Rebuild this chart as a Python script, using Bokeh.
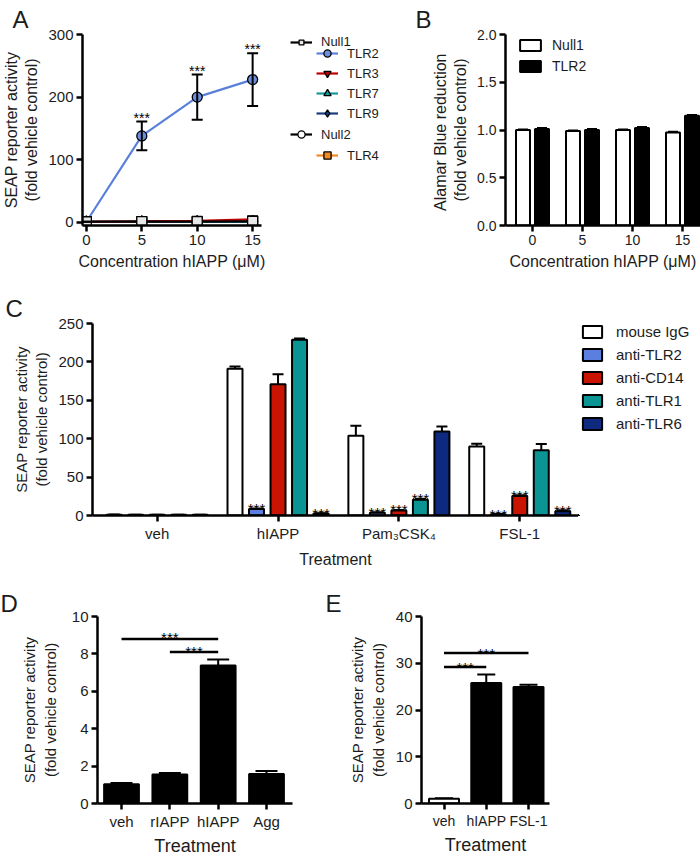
import numpy as np
from bokeh.plotting import figure
from bokeh.models import (Range1d, FixedTicker, PrintfTickFormatter, Legend, LegendItem,
                          Whisker, TeeHead, ColumnDataSource)
from bokeh.layouts import column, row
from bokeh.embed import file_html
from bokeh.resources import INLINE
from bokeh.core.properties import value

FONT = "Liberation Sans"
INK = "#1c1c1c"

# ---------------- data ----------------
# Panel A: SEAP activity vs hIAPP concentration
a_conc = [0, 5, 10, 15]
a_null1 = [1.0, 1.2, 1.1, 1.6]
a_tlr2 = [1.0, 138.0, 200.0, 228.0]
a_tlr2_err = [0.0, 23.0, 36.0, 42.0]
a_tlr3 = [1.0, 1.5, 2.5, 5.0]
a_tlr7 = [1.0, 1.1, 1.2, 1.4]
a_tlr9 = [1.0, 1.0, 1.1, 1.2]
a_null2 = [1.0, 1.1, 1.0, 1.2]
a_tlr4 = [1.0, 1.3, 1.6, 2.2]
a_sig = [False, True, True, True]

# Panel B: Alamar Blue reduction
b_conc = ["0", "5", "10", "15"]
b_null1 = [1.0, 0.99, 1.0, 0.975]
b_null1_err = [0.004, 0.006, 0.004, 0.006]
b_tlr2 = [1.01, 1.0, 1.02, 1.15]
b_tlr2_err = [0.01, 0.01, 0.012, 0.008]

# Panel C: antibody blocking
c_treat = ["veh", "hIAPP", "Pam\u2083CSK\u2084", "FSL-1"]
c_antibodies = ["mouse IgG", "anti-TLR2", "anti-CD14", "anti-TLR1", "anti-TLR6"]
c_igg = [1.0, 191.0, 104.0, 90.0]
c_igg_err = [0.3, 3.0, 13.0, 3.5]
c_tlr2 = [1.0, 8.6, 3.5, 1.5]
c_tlr2_err = [0.1, 0.6, 0.6, 0.3]
c_cd14 = [1.0, 171.0, 6.5, 25.5]
c_cd14_err = [0.1, 13.0, 0.8, 1.0]
c_tlr1 = [1.0, 229.0, 20.5, 85.0]
c_tlr1_err = [0.1, 1.5, 1.2, 8.0]
c_tlr6 = [1.0, 2.5, 109.5, 5.5]
c_tlr6_err = [0.1, 0.5, 6.5, 1.2]
c_sig_igg = [0, 0, 0, 0]
c_sig_tlr2 = [0, 1, 1, 1]
c_sig_cd14 = [0, 0, 1, 1]
c_sig_tlr1 = [0, 0, 1, 0]
c_sig_tlr6 = [0, 1, 0, 1]

# Panel D
d_treat = ["veh", "rIAPP", "hIAPP", "Agg"]
d_vals = [1.03, 1.55, 7.38, 1.58]
d_err = [0.06, 0.08, 0.32, 0.16]
d_sig_from = ["veh", "rIAPP"]
d_sig_to = ["hIAPP", "hIAPP"]
d_sig_y = [8.8, 8.1]

# Panel E
e_treat = ["veh", "hIAPP", "FSL-1"]
e_vals = [1.0, 25.8, 24.9]
e_err = [0.1, 1.8, 0.5]
e_sig_from = ["veh", "veh"]
e_sig_to = ["hIAPP", "FSL-1"]
e_sig_y = [29.2, 32.2]

Y_TITLE = "SEAP reporter activity\n(fold vehicle control)"


def style(p, tick_size="15px", title_size="16px"):
    p.outline_line_color = None
    p.xgrid.visible = False
    p.ygrid.visible = False
    for ax in (p.xaxis[0], p.yaxis[0]):
        ax.axis_line_width = 2.5
        ax.axis_line_color = "black"
        ax.major_tick_line_width = 2.5
        ax.major_tick_line_color = "black"
        ax.major_tick_out = 6
        ax.major_tick_in = 0
        ax.minor_tick_line_color = None
        ax.major_label_text_font = FONT
        ax.major_label_text_font_size = tick_size
        ax.major_label_text_color = INK
        ax.major_label_standoff = 3
        ax.axis_label_text_font = FONT
        ax.axis_label_text_font_size = title_size
        ax.axis_label_text_font_style = "normal"
        ax.axis_label_text_color = INK
        ax.axis_label_standoff = 5


def letter(p, txt, offset, standoff):
    p.title.text = txt
    p.title.align = "left"
    p.title.offset = offset
    p.title.standoff = standoff
    p.title.text_font = FONT
    p.title.text_font_size = "24px"
    p.title.text_font_style = "normal"
    p.title.text_color = INK


def legend(items, x, y, **kw):
    return Legend(items=items, location=(x, y), padding=0, margin=0,
                  background_fill_alpha=0, border_line_color=None,
                  label_text_font=FONT, label_text_color=INK, **kw)


def blank(width, height):
    # legend-only figure: its ranges are far away from the data, so only swatches show
    p = figure(width=width, height=height, x_range=Range1d(1000, 1001), y_range=Range1d(1000, 1001),
               x_axis_location=None, y_axis_location=None, output_backend="svg",
               toolbar_location=None, min_border=0)
    p.outline_line_color = None
    p.grid.grid_line_color = None
    return p


def stars(p, xs, ys, size, dy):
    p.text(x=xs, y=ys, text=["***"] * len(xs), text_font=value(FONT), text_font_size=size,
           text_color="black", text_align="center", text_baseline="alphabetic", y_offset=dy)


# ---------------- Panel A ----------------
pA = figure(width=270, height=290, x_range=Range1d(-0.35, 15.8), y_range=Range1d(-5, 300),
            output_backend="svg", toolbar_location=None,
            min_border_left=72, min_border_right=9, min_border_top=34, min_border_bottom=65)
style(pA)
pA.xaxis.ticker = FixedTicker(ticks=a_conc)
pA.yaxis.ticker = FixedTicker(ticks=[0, 100, 200, 300])
pA.xaxis.axis_label = "Concentration hIAPP (\u03bcM)"
pA.yaxis.axis_label = Y_TITLE
letter(pA, "A", -70, 3)

series = [
    ("TLR4", a_tlr4, "#f08a24", "square", "#f08a24"),
    ("Null2", a_null2, "black", "circle", "white"),
    ("TLR9", a_tlr9, "#1c3d7c", "diamond", "#1c3d7c"),
    ("TLR7", a_tlr7, "#149b9b", "triangle", "#149b9b"),
    ("TLR3", a_tlr3, "#c00000", "inverted_triangle", "#c00000"),
    ("TLR2", a_tlr2, "#5b80dc", "circle", "#6e8fe0"),
    ("Null1", a_null1, "black", "square", "#e8e8e8"),
]
for name, ys, col, mk, fill in series:
    pA.line(a_conc, ys, line_color=col, line_width=2.2)
    if name == "TLR2":
        src = ColumnDataSource(dict(x=a_conc, up=[v + e for v, e in zip(a_tlr2, a_tlr2_err)],
                                    lo=[v - e for v, e in zip(a_tlr2, a_tlr2_err)]))
        pA.add_layout(Whisker(source=src, base="x", upper="up", lower="lo", line_width=2,
                              upper_head=TeeHead(size=11, line_width=2),
                              lower_head=TeeHead(size=11, line_width=2), level="glyph"))
    pA.scatter(a_conc, ys, marker=mk, size=10 if mk != "diamond" else 12,
               fill_color=fill, line_color="black", line_width=1.3)

sx = [c for c, s in zip(a_conc, a_sig) if s]
sy = [v + e for v, e, s in zip(a_tlr2, a_tlr2_err, a_sig) if s]
stars(pA, sx, sy, "14px", -4)

# legend for A lives in its own figure (same series, ranges out of view -> swatches only)
pAL = blank(142, 290)
lrend = {}
for name, ys, col, mk, fill in series:
    ln = pAL.line(a_conc, ys, line_color=col, line_width=2.2)
    sc = pAL.scatter(a_conc, ys, marker=mk, size=9 if mk != "diamond" else 11,
                     fill_color=fill, line_color="black", line_width=1.3)
    lrend[name] = [ln, sc]
lkw = dict(glyph_width=22, glyph_height=18, label_height=18, spacing=2,
           label_standoff=9, label_text_font_size="13px")
lkw1 = dict(lkw, glyph_height=12, label_height=12)
pAL.add_layout(legend([LegendItem(label="Null1", renderers=lrend["Null1"])], 20, 176, **lkw1))
pAL.add_layout(legend([LegendItem(label=n, renderers=lrend[n]) for n in ["TLR2", "TLR3", "TLR7", "TLR9"]],
                      46, 103, **lkw))
pAL.add_layout(legend([LegendItem(label="Null2", renderers=lrend["Null2"])], 20, 82, **lkw))
pAL.add_layout(legend([LegendItem(label="TLR4", renderers=lrend["TLR4"])], 46, 61, **lkw))

# ---------------- Panel B ----------------
pB = figure(width=288, height=290, x_range=Range1d(0.46, 4.36), y_range=Range1d(0, 2),
            output_backend="svg", toolbar_location=None,
            min_border_left=93, min_border_right=0, min_border_top=34, min_border_bottom=65)
style(pB, tick_size="14px")
bx = np.arange(1, len(b_conc) + 1)
pB.xaxis.ticker = FixedTicker(ticks=list(bx))
pB.xaxis.major_label_overrides = {int(i): t for i, t in zip(bx, b_conc)}
pB.yaxis.ticker = FixedTicker(ticks=[0, 0.5, 1.0, 1.5, 2.0])
pB.yaxis.formatter = PrintfTickFormatter(format="%.1f")
pB.xaxis.axis_label = "Concentration hIAPP (\u03bcM)"
pB.yaxis.axis_label = "Alamar  Blue reduction\n(fold vehicle control)"
letter(pB, "B", -90, 3)
bn = pB.vbar(x=bx - 0.19, top=b_null1, width=0.28, fill_color="white", line_color="black", line_width=2)
bt = pB.vbar(x=bx + 0.19, top=b_tlr2, width=0.28, fill_color="black", line_color="black", line_width=2)
for off, v, e in [(-0.19, b_null1, b_null1_err), (0.19, b_tlr2, b_tlr2_err)]:
    src = ColumnDataSource(dict(x=bx + off, up=np.array(v) + np.array(e), lo=v))
    pB.add_layout(Whisker(source=src, base="x", upper="up", lower="lo", line_width=2,
                          upper_head=TeeHead(size=10, line_width=2), lower_head=None))
pB.add_layout(legend([LegendItem(label="Null1", renderers=[bn]), LegendItem(label="TLR2", renderers=[bt])],
                     12, 150, glyph_width=26, glyph_height=14, label_height=19, spacing=2,
                     label_standoff=9, label_text_font_size="14px"))

# ---------------- Panel C ----------------
pC = figure(width=578, height=280, x_range=Range1d(0.465, 4.486), y_range=Range1d(0, 250),
            output_backend="svg", toolbar_location=None,
            min_border_left=92, min_border_right=0, min_border_top=33, min_border_bottom=53)
style(pC)
cx = np.arange(1, len(c_treat) + 1)
pC.xaxis.ticker = FixedTicker(ticks=list(cx))
pC.xaxis.major_label_overrides = {int(i): t for i, t in zip(cx, c_treat)}
pC.yaxis.ticker = FixedTicker(ticks=[0, 50, 100, 150, 200, 250])
pC.xaxis.axis_label = "Treatment"
pC.yaxis.axis_label = Y_TITLE
pC.yaxis.axis_label_text_font_size = "15px"
pC.xaxis.axis_label_standoff = 6
letter(pC, "C", -87, 3)

c_sets = [
    (c_igg, c_igg_err, c_sig_igg, "white"),
    (c_tlr2, c_tlr2_err, c_sig_tlr2, "#5a7fe0"),
    (c_cd14, c_cd14_err, c_sig_cd14, "#c81400"),
    (c_tlr1, c_tlr1_err, c_sig_tlr1, "#0a9494"),
    (c_tlr6, c_tlr6_err, c_sig_tlr6, "#0d2a80"),
]
pCL = blank(122, 280)
c_items = []
for k, (vals, errs, sig, colr) in enumerate(c_sets):
    off = (k - 2) * 0.178
    xs = cx + off
    pC.vbar(x=xs, top=vals, width=0.124, fill_color=colr, line_color="black", line_width=2)
    sw = pCL.vbar(x=xs, top=vals, width=0.124, fill_color=colr, line_color="black", line_width=2)
    c_items.append(LegendItem(label=c_antibodies[k], renderers=[sw]))
    up = np.array(vals) + np.array(errs)
    src = ColumnDataSource(dict(x=xs, up=up, lo=vals))
    pC.add_layout(Whisker(source=src, base="x", upper="up", lower="lo", line_width=2,
                          upper_head=TeeHead(size=11, line_width=2), lower_head=None))
    stx = [x for x, s in zip(xs, sig) if s]
    sty = [u for u, s in zip(up, sig) if s]
    if stx:
        stars(pC, stx, sty, "15px", 0)
pCL.add_layout(legend(c_items, 2, 82, glyph_width=24, glyph_height=15, label_height=20, spacing=3,
                      label_standoff=12, label_text_font_size="15px"))

# ---------------- Panel D ----------------
pD = figure(width=318, height=288, x_range=Range1d(0.503, 4.538), y_range=Range1d(0, 10),
            output_backend="svg", toolbar_location=None,
            min_border_left=97, min_border_right=26, min_border_top=46, min_border_bottom=48)
style(pD, tick_size="15px", title_size="18px")
dx = np.arange(1, len(d_treat) + 1)
dpos = {t: i for t, i in zip(d_treat, dx)}
pD.xaxis.ticker = FixedTicker(ticks=list(dx))
pD.xaxis.major_label_overrides = {int(i): t for i, t in zip(dx, d_treat)}
pD.yaxis.ticker = FixedTicker(ticks=[0, 2, 4, 6, 8, 10])
pD.xaxis.axis_label = "Treatment"
pD.xaxis.axis_label_standoff = 3
pD.yaxis.axis_label = Y_TITLE
pD.yaxis.axis_label_text_font_size = "15px"
pD.yaxis.axis_label_standoff = 10
letter(pD, "D", -97, 0)
pD.vbar(x=dx, top=d_vals, width=0.72, fill_color="black", line_color="black", line_width=2)
srcD = ColumnDataSource(dict(x=dx, up=np.array(d_vals) + np.array(d_err), lo=d_vals))
pD.add_layout(Whisker(source=srcD, base="x", upper="up", lower="lo", line_width=2,
                      upper_head=TeeHead(size=22, line_width=2), lower_head=None))
d_x0 = [dpos[a] for a in d_sig_from]
d_x1 = [dpos[b] for b in d_sig_to]
pD.segment(x0=d_x0, y0=d_sig_y, x1=d_x1, y1=d_sig_y, line_color="black", line_width=2.5)
stars(pD, [(a + b) / 2 for a, b in zip(d_x0, d_x1)], d_sig_y, "15px", -1)

# ---------------- Panel E ----------------
pE = figure(width=382, height=288, x_range=Range1d(0.467, 3.497), y_range=Range1d(0, 40),
            output_backend="svg", toolbar_location=None,
            min_border_left=103, min_border_right=151, min_border_top=46, min_border_bottom=48)
style(pE, tick_size="15px", title_size="18px")
pE.xaxis.major_label_text_font_size = "14px"
ex = np.arange(1, len(e_treat) + 1)
epos = {t: i for t, i in zip(e_treat, ex)}
pE.xaxis.ticker = FixedTicker(ticks=list(ex))
pE.xaxis.major_label_overrides = {int(i): t for i, t in zip(ex, e_treat)}
pE.yaxis.ticker = FixedTicker(ticks=[0, 10, 20, 30, 40])
pE.xaxis.axis_label = "Treatment"
pE.xaxis.axis_label_standoff = 3
pE.yaxis.axis_label = Y_TITLE
pE.yaxis.axis_label_text_font_size = "15px"
pE.yaxis.axis_label_standoff = 6
letter(pE, "E", -96, 0)
pE.vbar(x=ex, top=e_vals, width=0.71, fill_color=["white", "black", "black"], line_color="black", line_width=2)
srcE = ColumnDataSource(dict(x=ex, up=np.array(e_vals) + np.array(e_err), lo=e_vals))
pE.add_layout(Whisker(source=srcE, base="x", upper="up", lower="lo", line_width=2,
                      upper_head=TeeHead(size=18, line_width=2), lower_head=None))
e_x0 = [epos[a] for a in e_sig_from]
e_x1 = [epos[b] for b in e_sig_to]
pE.segment(x0=e_x0, y0=e_sig_y, x1=e_x1, y1=e_sig_y, line_color="black", line_width=2.5)
stars(pE, [(a + b) / 2 for a, b in zip(e_x0, e_x1)], e_sig_y, "15px", 1)

layout = column(row(pA, pAL, pB), row(pC, pCL), row(pD, pE))
open("out.html", "w").write(file_html(layout, INLINE))
